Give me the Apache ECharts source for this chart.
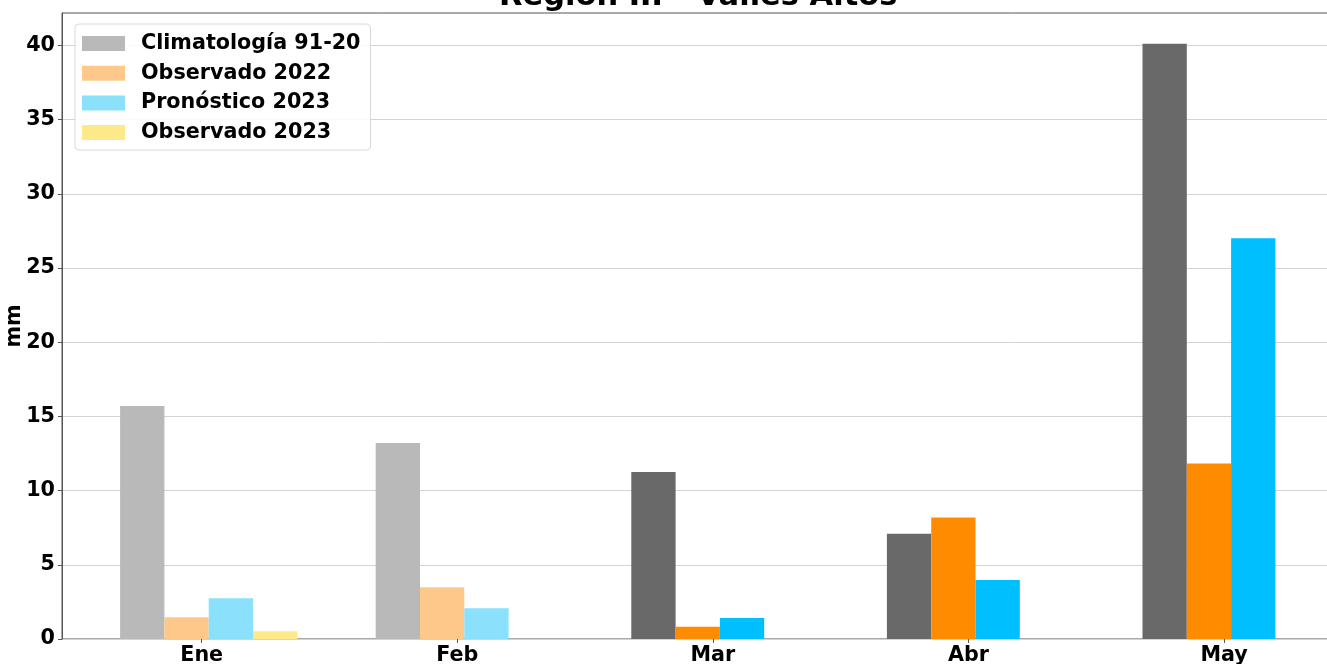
<!DOCTYPE html>
<html><head><meta charset="utf-8">
<script src="https://cdn.jsdelivr.net/npm/echarts@6/dist/echarts.min.js"></script>
<style>html,body{margin:0;padding:0;background:#fff}#c{width:1327px;height:664px}</style>
</head><body><div id="c"></div>
<script>
const months = ['Ene', 'Feb', 'Mar', 'Abr', 'May'];
const climatologia = [15.7, 13.2, 11.25, 7.1, 40.1];
const observado2022 = [1.46, 3.48, 0.82, 8.18, 11.82];
const pronostico2023 = [2.75, 2.08, 1.41, 3.97, 27.0];
const observado2023 = [0.52, null, null, null, null];
const seriesNames = ['Climatología 91-20', 'Observado 2022', 'Pronóstico 2023', 'Observado 2023'];
const titleText = 'Región III - Valles Altos';
const yName = 'mm';

const F = 'DejaVu Sans';
const FS = 20.7;
const YMAX = 42.18;
const fadedCount = 2;

function mk(name, vals, light, full) {
  return {
    type: 'bar', name: name, xAxisIndex: 1, yAxisIndex: 1,
    barWidth: 44.3, barGap: '0%',
    itemStyle: { color: light },
    emphasis: { disabled: true },
    data: vals.map((v, i) => ({ value: v, itemStyle: { color: i < fadedCount ? light : full } }))
  };
}

const chart = echarts.init(document.getElementById('c'), null, { renderer: 'canvas' });
chart.setOption({
  animation: false,
  backgroundColor: '#fff',
  title: {
    text: titleText, left: 499, top: -18, padding: 0,
    textStyle: { fontFamily: F, fontWeight: 'bold', fontSize: 30.5, color: '#000', lineHeight: 30 }
  },
  legend: {
    orient: 'vertical', left: 75, top: 24,
    itemWidth: 43, itemHeight: 15, itemGap: 8.7,
    padding: [9, 10, 7, 7],
    borderColor: '#d8d8d8', borderWidth: 1, borderRadius: 4,
    backgroundColor: 'rgba(255,255,255,0.85)',
    icon: 'rect',
    textStyle: { fontFamily: F, fontWeight: 'bold', fontSize: FS, color: '#000', lineHeight: 20, padding: [0, 0, 0, 11] },
    data: seriesNames
  },
  grid: [
    { left: 62, top: 13, bottom: 25, right: -100, outerBoundsMode: 'none', containLabel: false, show: true, borderColor: '#555', borderWidth: 1, backgroundColor: 'transparent' },
    { left: 80.9, top: 13, bottom: 25, width: 1278, outerBoundsMode: 'none', containLabel: false },
    { left: 73.9, top: 13, bottom: 25, width: 1278, outerBoundsMode: 'none', containLabel: false }
  ],
  xAxis: [
    { gridIndex: 0, type: 'value', min: 0, max: 1, show: false },
    { gridIndex: 1, type: 'category', data: months, show: false },
    {
      gridIndex: 2, type: 'category', data: months,
      axisLine: { show: false },
      axisTick: { show: true, alignWithLabel: true, length: 4, lineStyle: { color: '#555' } },
      axisLabel: { fontFamily: F, fontWeight: 'bold', fontSize: FS, color: '#000', margin: 6 },
      splitLine: { show: false }
    }
  ],
  yAxis: [
    {
      gridIndex: 0, type: 'value', min: 0, max: YMAX, interval: 5,
      name: yName, nameLocation: 'middle', nameGap: 37, nameMoveOverlap: false,
      nameTextStyle: { fontFamily: F, fontWeight: 'bold', fontSize: FS, color: '#000' },
      axisLine: { show: true, lineStyle: { color: '#555' } },
      axisTick: { show: true, length: 4, lineStyle: { color: '#555' } },
      axisLabel: {
        fontFamily: F, fontWeight: 'bold', fontSize: FS, color: '#000', margin: 7,
        showMaxLabel: false,
        formatter: v => (Math.abs(v % 5) < 1e-9 ? String(v) : '')
      },
      splitLine: { show: true, showMaxLine: false, lineStyle: { color: '#d3d3d3', width: 1 } }
    },
    { gridIndex: 1, type: 'value', min: 0, max: YMAX, show: false },
    { gridIndex: 2, type: 'value', min: 0, max: YMAX, show: false }
  ],
  series: [
    mk(seriesNames[0], climatologia, '#b9b9b9', '#696969'),
    mk(seriesNames[1], observado2022, '#fec88a', '#ff8c00'),
    mk(seriesNames[2], pronostico2023, '#8be0fb', '#00bfff'),
    mk(seriesNames[3], observado2023, '#fee98a', '#ffd700')
  ]
});
</script></body></html>
